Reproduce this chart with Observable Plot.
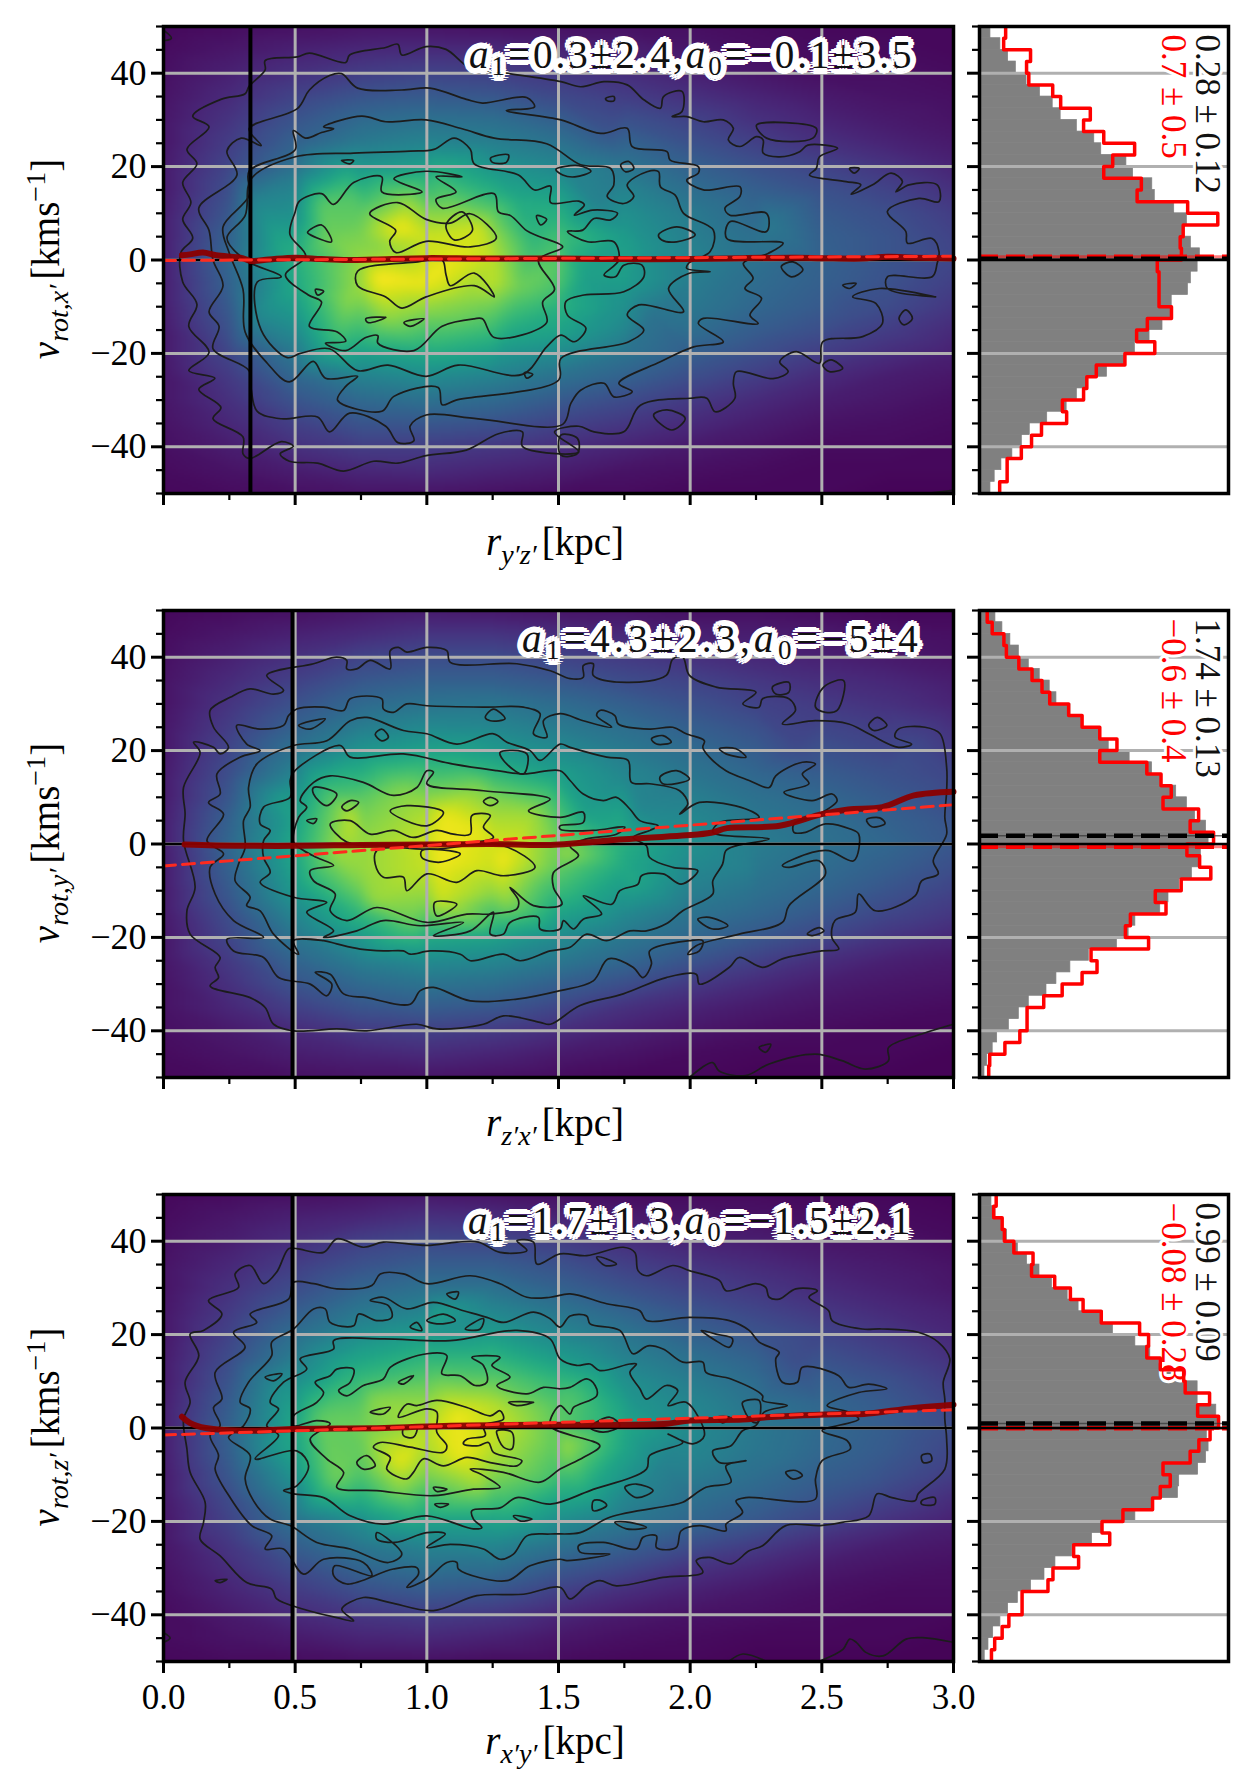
<!DOCTYPE html>
<html>
<head>
<meta charset="utf-8">
<script src="https://cdn.jsdelivr.net/npm/d3@7"></script>
<script src="https://cdn.jsdelivr.net/npm/@observablehq/plot@0.6"></script>
<style>
body { margin: 0; background: white; }
#page { position: relative; width: 1253px; height: 1791px; font-family: "Liberation Serif", serif; color: black; overflow: hidden; }
#page svg { position: absolute; max-width: none; }
.lab { position: absolute; font-size: 39px; white-space: nowrap; }
.lab sub { font-size: 28px; vertical-align: -9px; line-height: 0; margin-right: 5px; }
.lab sup { font-size: 28px; line-height: 0; }
.ylab { transform: translate(-50%, -50%) rotate(-90deg); }
.xlab { transform: translate(-50%, -50%); }
.fit { position: absolute; font-size: 39px; white-space: nowrap; transform: translateY(-50%); color: #111;
  text-shadow: 4px 0 #fff, -4px 0 #fff, 0 4px #fff, 0 -4px #fff, 3px 3px #fff, -3px 3px #fff, 3px -3px #fff, -3px -3px #fff, 6px 0 #fff, -6px 0 #fff, 0 6px #fff, 0 -6px #fff, 5px 3px #fff, -5px 3px #fff, 5px -3px #fff, -5px -3px #fff, 3px 5px #fff, -3px 5px #fff, 3px -5px #fff, -3px -5px #fff; }
.fit sub { font-size: 27px; vertical-align: -7px; line-height: 0; }
</style>
</head>
<body>
<div id="page"></div>
<script>
const rGrid = [0, 0.25, 0.5, 0.75, 1, 1.25, 1.5, 1.75, 2, 2.25, 2.5, 2.75, 3];
const vGrid = [50, 45, 40, 35, 30, 25, 20, 15, 10, 5, 0, -5, -10, -15, -20, -25, -30, -35, -40, -45, -50];
const vMajor = [-40, -20, 0, 20, 40];
const vMinor = [-50, -45, -35, -30, -25, -15, -10, -5, 5, 10, 15, 25, 30, 35, 45, 50];
const rMajor = [0, 0.5, 1, 1.5, 2, 2.5, 3];
const rMinor = [0.25, 0.75, 1.25, 1.75, 2.25, 2.75];
const gridV = [-40, -20, 0, 20, 40];
const gridR = [0.5, 1, 1.5, 2, 2.5];

// density, one row per vGrid value
const heat1 = [
[2,3,4,5,5,4,4,4,4,3,2,2,2],[3,6,9,11,12,12,10,9,6,4,3,3,2],[4,9,14,18,20,19,16,13,9,6,4,4,3],
[5,12,20,26,28,27,22,18,14,10,7,5,4],[6,15,26,34,37,36,30,25,20,14,10,7,5],[6,18,31,41,45,43,38,32,25,19,14,10,7],
[7,21,37,52,56,52,46,39,31,25,20,15,10],[7,24,45,64,68,62,55,45,36,30,25,20,14],[8,27,50,75,82,76,63,50,41,33,28,24,18],
[8,31,58,80,92,85,70,55,43,36,30,26,20],[8,33,62,84,93,90,74,57,45,37,31,26,21],[8,31,60,85,97,90,72,55,42,35,30,25,19],
[8,28,55,78,84,78,64,50,40,33,28,23,16],[7,25,48,68,72,68,58,46,36,29,24,18,12],[7,21,40,56,60,56,48,38,30,24,18,13,9],
[6,17,33,44,48,44,37,31,24,18,12,8,6],[6,14,26,34,37,34,28,23,17,12,8,6,4],[5,11,19,26,27,25,20,16,12,8,5,4,3],
[4,8,14,18,18,16,13,10,7,5,3,3,2],[3,5,8,11,12,10,8,5,4,3,2,2,2],[2,3,4,5,5,4,3,3,2,2,2,1,1]];
const heat2 = [
[2,3,4,6,7,6,5,5,4,4,3,2,2],[3,6,9,12,15,15,13,11,9,8,7,5,4],[4,9,14,20,23,23,20,17,14,11,9,7,5],
[5,12,19,27,30,30,27,23,20,16,13,11,8],[5,15,25,34,38,39,35,30,25,20,17,14,10],[6,18,31,42,47,46,41,36,30,25,21,18,14],
[6,21,38,52,57,54,48,41,35,29,25,21,17],[7,24,45,63,70,66,56,46,39,33,29,25,21],[7,27,52,74,82,80,66,53,43,37,33,28,23],
[8,31,57,80,89,88,74,59,47,40,36,31,26],[8,33,60,84,92,93,78,62,50,42,37,33,27],[7,31,58,84,91,92,76,60,47,40,35,30,24],
[7,28,54,78,85,84,68,54,43,37,32,26,20],[7,24,46,66,74,70,58,47,38,33,27,21,16],[6,21,39,54,60,57,48,40,33,27,21,15,11],
[6,17,32,43,48,46,40,33,26,19,13,9,7],[5,14,26,34,38,36,30,24,17,12,8,6,5],[5,11,19,26,29,27,21,14,10,7,5,4,3],
[4,7,12,17,19,17,13,9,6,4,3,2,2],[3,5,8,10,12,10,7,5,3,2,2,2,1],[2,3,4,5,5,4,3,2,2,1,1,1,1]];
const heat3 = [
[2,3,4,5,6,5,4,3,3,3,2,2,1],[3,6,9,11,14,13,10,8,6,5,4,3,2],[4,8,13,19,22,21,18,13,10,8,6,5,3],
[5,11,18,25,29,29,25,19,15,12,9,7,5],[5,14,23,32,37,37,31,25,20,16,12,9,6],[6,17,29,40,45,46,39,32,26,21,16,12,9],
[6,20,36,49,55,55,46,39,31,26,21,16,11],[7,23,42,58,65,65,55,44,37,31,25,20,14],[7,26,49,68,75,76,66,50,42,35,30,25,18],
[8,29,55,74,84,89,73,57,46,38,33,28,21],[8,31,60,78,88,91,75,60,48,40,34,29,23],[8,30,57,76,87,89,74,58,46,39,33,28,21],
[7,27,52,72,80,82,70,53,42,36,30,25,18],[7,23,44,62,68,70,59,46,37,32,26,20,13],[6,20,37,49,57,57,49,40,33,27,20,14,9],
[6,16,30,40,45,46,38,31,24,18,12,8,6],[5,13,23,32,37,36,28,22,15,11,7,5,4],[4,10,17,24,28,26,19,13,9,6,4,3,3],
[3,7,12,16,18,16,11,7,5,4,3,2,2],[3,5,7,10,11,9,6,4,3,2,2,2,1],[2,3,3,4,4,3,3,2,2,1,1,1,1]];

// bright and dim patches read between the grid nodes, r,v,density
const spots1 = [.9,7,98,.82,-4,100,1.03,-3,98,.62,5,78,.6,12,74,.73,14,72,1.2,7,92,1.1,11,80,.93,12,85,.7,-9,82,.85,-13,82,1.12,-13,76,1.35,-6,78,1.4,4,66,.45,3,60,.65,-18,66,1.03,-18,66,1.3,-17,58,1.03,18,66,.7,18,62,1.35,13,60,1.6,-4,56,1.65,12,44,1.85,-12,38,1.85,3,50,2.3,8,40,2.6,-12,24,1.7,27,26,.35,-12,46,.35,12,46,.87,2,84,1.15,-8,84];
const spots2 = [1.06,6,97,1.05,-4,98,1.28,-4,98,1.2,3,96,1.4,6,86,.72,6,90,.66,-2,85,.8,-12,84,1.05,-12,92,1.3,-12,84,1.45,-9,72,.62,11,70,.9,12,80,1.2,13,78,1.52,-2,85,.95,-17,76,1.23,-17,74,1.1,18,62,1.6,7,56,1.77,-8,60,1.8,8,46,1.6,-13,58,.45,-11,48,.45,9,56,2.23,-6,42,2.85,21,22,2.4,21,22,2.2,-11,38];
const spots3 = [1.12,3,97,1.13,-6,97,.9,-7,96,1.05,-1,94,1.3,1,90,.8,6,82,.6,2,76,.65,-11,78,.9,-13,82,1.2,-12,86,1.52,-4,85,1.45,-11,72,1.55,7,72,1.03,12,72,1.23,12,70,.7,12,62,.95,-18,66,1.3,-17,66,1.6,-14,60,1.03,21,50,1.03,24,58,1.77,6,52,1.9,-8,44,.45,-4,56,.45,8,52,2.3,-6,38,2.4,14,24,2.7,-11,26];

// contours as x,y,x,y...
const contours1 = [
[.325,37.2,.386,40.7,.386,42.7,.508,43.5,.554,44.3,.692,42.3,.707,43.9,.844,45.5,.89,46.2,.905,43.9,.997,45.7,1.073,45.1,1.165,41.1,1.3,40,1.509,38.2,1.584,37.1,1.673,38.2,1.761,37.5,1.824,34.3,1.887,32.5,1.899,35,1.969,36.1,1.969,31.8,1.931,30.7,1.987,30.7,2.05,29.6,2.126,30,2.164,28.2,2.145,25.7,2.189,24.3,2.252,26.4,2.277,25.7,2.277,22.9,2.34,22.1,2.416,23.2,2.447,24.6,2.56,23.9,2.491,22.1,2.479,19.6,2.453,18.2,2.592,16.8,2.648,16.1,2.611,14.1,2.693,16.1,2.763,18.6,2.806,16.8,2.781,14.6,2.831,16.1,2.938,16.1,2.945,12.5,2.869,13.2,2.749,10.4,2.819,6.1,2.825,3.6,2.919,4.6,2.945,1.8,2.938,-.7,2.919,-3.6,2.749,-3.6,2.749,-6.1,2.932,-7.9,2.718,-6.1,2.617,-7.9,2.705,-9.3,2.73,-13.6,2.655,-16.4,2.504,-17.5,2.491,-22.1,2.403,-19.6,2.34,-21.8,2.372,-23.9,2.315,-25.4,2.176,-23.9,2.164,-26.4,2.17,-29.6,2.095,-32.5,2.063,-29.6,2,-29.6,1.811,-31.1,1.748,-36.8,1.635,-36.8,1.577,-35.6,1.485,-36.8,1.577,-41.1,1.363,-39.9,1.363,-36.8,1.272,-37.2,1.15,-40.7,.997,-41.9,.89,-43.5,.798,-43.1,.684,-45.2,.585,-43.5,.478,-43.1,.443,-41.5,.493,-39.9,.447,-38.9,.328,-42.5,.302,-41.5,.302,-37.9,.188,-34,.218,-31.6,.134,-27.7,.195,-25.3,.096,-23.7,.173,-19.8,.096,-14.2,.127,-9.5,.073,-4.7,.066,1.6,.111,4.7,.073,8.7,.104,12.3,.073,16.6,.127,20.6,.089,23.7,.173,28.5,.111,30.8,.218,34.4,.31,35.6],
[1.509,30,1.66,27.1,1.761,28.2,1.78,24.3,1.912,23.2,1.924,21.4,2.031,20,2.031,18.6,1.987,17.1,2.05,15,2.189,15.7,2.189,13.6,2.132,11.1,2.151,9.6,2.29,10,2.29,6.1,2.151,8.2,2.139,4.6,2.353,3.6,2.296,1.4,2.202,-.7,2.239,-3.9,2.208,-6.1,2.271,-8.2,2.227,-11.8,2.258,-13.6,2.05,-12.5,2.031,-13.6,2.126,-17.5,2.013,-18.6,1.887,-21.8,1.729,-26.4,1.78,-28.2,1.71,-29.3,1.673,-26.4,1.584,-27.9,1.547,-30.7,1.516,-35.2,1.195,-34,.997,-33.2,.936,-35.6,.951,-38.7,.89,-39.1,.844,-35.6,.707,-32.8,.631,-36.8,.585,-33.6,.447,-34,.356,-32.4,.333,-27.7,.325,-23.7,.188,-19,.211,-14.2,.173,-11.1,.226,-5.5,.188,0,.173,6.3,.134,11.1,.279,18.2,.241,23.3,.295,26.1,.371,24.5,.325,28.1,.508,32.4,.554,36.4,.631,39.5,.676,39.9,.737,36.8,.905,36.4,1.012,36.8,1.15,34.4,1.211,33.6,1.379,34.8,1.409,32.8,1.302,32],
[.501,23.7,.493,27.7,.539,26.1,.6,27.3,.646,28.1,.608,28.5,.753,30.8,.844,29.6,.997,30,1.134,28.1,1.256,26.1,1.455,24.9,1.584,20.4,1.698,19.6,1.71,16.1,1.685,13.6,1.748,12.1,1.786,13.6,1.761,16.1,1.836,18.9,1.88,18.9,1.887,15.7,1.943,13.9,1.975,10,2.088,6.4,2.076,1.8,1.994,-.7,1.987,-1.8,2.076,-2.5,1.994,-2.9,1.918,-6.1,1.975,-11.1,1.805,-9.6,1.761,-11.8,1.824,-15,1.767,-17.5,1.509,-21.1,1.501,-25.7,1.111,-30,1.058,-31,1.043,-27.3,.875,-29.2,.829,-32.4,.661,-30,.693,-27,.737,-24.9,.615,-25.3,.569,-21.7,.478,-26.1,.394,-22.1,.31,-15.4,.302,-6.3,.249,1.6,.226,7.1,.325,13.8,.325,19],
[.501,22.1,.722,22.9,.936,23.3,1.027,23.7,1.104,26.1,1.165,23.7,1.18,20.6,1.348,18.2,1.409,15,1.47,15.8,1.47,12.3,1.577,12.6,1.598,11.8,1.56,9.6,1.63,10.7,1.724,10,1.698,8.6,1.635,8.9,1.592,6.4,1.534,6.1,1.61,3.9,1.71,3.9,1.729,0,1.673,-3.2,1.716,-3.6,1.748,-1.1,1.817,-1.1,1.824,-3.6,1.748,-6.8,1.597,-7.5,1.528,-8.9,1.534,-11.8,1.604,-14.6,1.56,-17.5,1.509,-16.1,1.455,-18.6,1.363,-24.5,1.119,-22.5,.997,-24.9,.852,-22.5,.737,-23.7,.63,-19,.52,-20,.47,-20.9,.371,-15,.356,-4.7,.447,-3.6,.31,0,.241,4.7,.31,9.5,.333,17.4],
[.516,12.6,.6,14.2,.646,11.9,.722,16.6,.829,17.8,.829,14.6,.982,14.6,.875,17.4,.997,19,1.134,17.8,1.035,17.8,1.111,14.6,1.035,13,1.058,11.1,1.256,14.2,1.272,10.3,1.318,9.5,1.379,6.3,1.424,5.1,1.516,2.8,1.424,0,1.485,-6.3,1.44,-9,1.455,-13.4,1.256,-16.6,1.211,-12.6,1.18,-12.6,1.058,-14.2,.951,-19.4,.814,-17.8,.814,-16.2,.768,-16.6,.692,-19.4,.615,-17.8,.692,-17.4,.66,-15.4,.554,-14.2,.6,-9,.55,-7.5,.463,-3.2,.54,.8,.48,5.5,.5,10.3],
[.783,9.9,.89,12.3,.997,8.7,1.089,7.9,1.165,9.9,1.264,4.7,1.165,2.8,.997,4,.882,1.6,.859,4,.882,6.3],
[.737,-2.4,.966,-.4,1.058,0,1.073,-3.2,1.089,-5.5,1.18,-2.8,1.256,-7.9,1.18,-5.5,.997,-7.9,.905,-10.3,.844,-7.9,.737,-5.5],
[.547,5.9,.6,7.5,.638,3.9,.554,5.5],[1.073,7.5,1.134,10.3,1.173,6.3,1.104,4.3],[1.242,21.8,1.31,22.5,1.302,20.9,1.249,20.9],
[1.49,19.4,1.577,20.2,1.623,19,1.562,17.8,1.516,18.2],[.676,21.3,.722,21.3,.707,20.6],[1.417,9.5,1.455,8.7,1.432,7.5],
[.577,-6.3,.608,-6.7,.585,-7.5],[.768,-12.6,.844,-12.3,.776,-13.4],[.913,-13.4,.989,-12.6,.936,-14.2],[1.371,-24.1,1.402,-24.5,1.379,-25.3],
[1.736,20.4,1.767,21.1,1.786,19.6,1.754,18.9],[1.88,5.4,1.949,7.1,2.019,5.4,1.949,3.9,1.892,4.3],[2.252,28.9,2.479,28.2,2.466,26.1,2.29,26.1],
[2.605,19.6,2.642,19.6,2.623,18.6],[2.346,-1.4,2.39,-.4,2.428,-2.1,2.384,-3.6],[2.579,-5.4,2.63,-5,2.605,-6.1],[2.793,-12.5,2.819,-10.7,2.844,-12.5,2.812,-13.9],
[1.861,-33.2,1.912,-32.1,1.981,-33.9,1.931,-36.4],[2.504,-22.5,2.535,-21.4,2.579,-23.2,2.529,-23.9],[1.509,-37.5,1.572,-38.2,1.572,-41.4,1.509,-41.8],[1.679,34.6,1.711,35,1.711,34.1,1.685,34.1]];
const open1 = [[2.894,-50,3,-49.3],[.005,49,.03,47.5,.005,47]];

const contours2 = [
[.114,21.8,.139,19.6,.076,12.1,.082,6.4,.076,.7,.12,-9.3,.089,-14.3,.101,-19.3,.215,-24.3,.196,-26.4,.209,-28.6,.177,-30.4,.329,-32.9,.386,-35,.418,-38.6,.494,-40,.658,-39.6,.772,-40,.962,-38.6,1.038,-39.6,1.215,-38.6,1.291,-36.8,1.43,-38.2,1.469,-38.6,1.582,-34.6,1.746,-32.1,1.909,-28.6,2.023,-27.9,2.035,-30,2.149,-26.4,2.186,-24.3,2.275,-26.4,2.35,-24.6,2.5,-22.9,2.564,-22.5,2.538,-20,2.55,-16.4,2.627,-14.6,2.64,-10.7,2.703,-14.3,2.854,-11.1,2.879,-7.9,2.942,-6.4,2.923,-3.6,2.974,2.1,2.967,5.7,2.974,11.4,2.974,16.4,2.949,23.6,2.892,25,2.791,24.6,2.778,22.9,2.841,21.4,2.791,20.7,2.678,23.6,2.602,25.7,2.476,26.4,2.35,25.7,2.4,28.6,2.375,31.1,2.275,31.1,2.262,29.3,2.2,30,2.25,32.5,2.098,33.6,1.997,36.1,1.972,40,1.934,39.6,1.909,36.1,1.758,34.6,1.632,36.1,1.632,38.6,1.594,38.2,1.594,35.7,1.544,35.4,1.469,37.1,1.342,38.6,1.089,38.9,1.076,41.4,1,42.1,.924,41.1,.892,42.1,.861,41.4,.861,37.5,.785,39.3,.734,37.5,.696,37.5,.696,39.3,.658,40,.57,38.6,.392,36.1,.456,32.9,.418,32.1,.329,33.2,.253,31.4,.177,28.6,.19,25,.247,20.7,.215,19.3,.19,20.7],
[.367,20,.291,18.6,.203,15,.215,10.7,.171,8.9,.228,6.4,.165,.7,.228,-2.1,.177,-5,.196,-10.7,.266,-16.4,.38,-20,.241,-20.4,.266,-22.9,.38,-24.3,.437,-28.6,.557,-30,.62,-32.5,.639,-30,.576,-27.5,.633,-27.9,.684,-32.1,.772,-32.9,.937,-34.3,.975,-31.4,1.025,-30.7,1.165,-33.6,1.342,-33.2,1.506,-31.4,1.632,-29.3,1.689,-24.6,1.783,-26.4,1.821,-28.6,1.853,-25.7,1.846,-22.9,1.997,-20.7,2.048,-20.7,2.035,-22.9,1.991,-23.6,2.023,-21.8,2.186,-19.3,2.35,-16.8,2.375,-13.2,2.514,-6.4,2.489,-3.6,2.375,-5,2.35,-4.6,2.463,-1.8,2.526,-1.4,2.621,-3.6,2.64,2.1,2.608,3.2,2.514,4.3,2.438,2.5,2.394,2.5,2.394,4.3,2.489,6.4,2.558,9.3,2.539,10.7,2.463,9.3,2.356,11.1,2.451,12.9,2.426,15,2.476,17.1,2.426,17.5,2.325,14.6,2.3,12.1,2.224,13.6,2.136,15.7,2.073,18.6,2.048,20.7,2.054,22.1,1.985,23.6,1.934,25,1.846,24.6,1.727,25.7,1.714,27.5,1.657,28.6,1.645,27.5,1.702,25,1.594,26.4,1.506,27.9,1.443,26.4,1.456,22.9,1.405,23.6,1.43,27.9,1.367,29.3,1.215,29.3,1,29.6,.924,30,.873,28.2,.835,28.9,.829,31.1,.709,31.1,.684,28.6,.608,29.3,.506,28.9,.475,27.5,.456,25.4,.367,24.6,.278,25.4,.316,21.4],
[.494,21.1,.62,22.1,.709,26.4,.772,27.1,.911,24.3,1,23.6,1.114,21.4,1.253,23.6,1.304,21.8,1.392,20,1.43,17.9,1.506,21.4,1.544,20.7,1.683,18.6,1.764,17.9,1.777,13.2,1.846,12.9,1.96,11.4,1.991,8.6,1.96,6.4,2.035,8.9,2.212,7.5,2.262,5.7,2.111,4.6,2.086,2.5,2.3,1.1,2.174,-.4,2.136,-1.4,2.123,-4.3,2.086,-7.9,2.086,-10.7,1.972,-14.3,1.909,-17.1,1.834,-18.6,1.771,-18.6,1.683,-20.7,1.607,-19.3,1.544,-22.1,1.469,-22.9,1.354,-25,1.291,-23.6,1.165,-25,1.127,-23.6,1.013,-22.9,.937,-23.6,.911,-22.9,.835,-22.9,.747,-22.5,.658,-21.4,.608,-20.7,.494,-20.7,.513,-23.6,.418,-19.3,.367,-14.3,.316,-13.2,.329,-11.4,.272,-7.9,.285,-4.3,.31,-.7,.304,5,.329,7.9,.323,12.1,.354,17.1],
[.494,15.4,.671,21.1,.709,18.6,.911,19.3,1.101,17.1,1.266,15.7,1.367,15,1.506,15.7,1.544,13.6,1.594,10.7,1.67,9.3,1.72,10,1.771,7.5,1.809,5,1.878,3.9,1.846,2.9,1.783,1.4,1.834,-.4,1.846,-2.9,1.934,-5,2.029,-5.7,1.966,-8.6,1.897,-6.4,1.815,-6.8,1.802,-8.6,1.733,-10,1.702,-12.9,1.594,-11.1,1.664,-15,1.594,-16.1,1.557,-18.2,1.519,-16.4,1.506,-18.2,1.43,-18.2,1.424,-15.7,1.316,-16.8,1.291,-19.3,1.241,-19.3,1.253,-14.6,1.165,-18.6,1.025,-19.6,1.139,-16.8,.975,-17.5,.835,-16.4,.734,-18.6,.608,-20,.646,-18.6,.544,-14.6,.62,-12.5,.494,-11.4,.367,-8.2,.405,-6.1,.38,-2.9,.38,.7,.405,2.9,.367,4.3,.38,7.9,.481,10,.481,13.6],
[.513,5.7,.544,7.9,.519,9.3,.57,13.2,.633,14.6,.759,13.2,.873,10.4,.962,12.1,1,15.7,1.025,15.4,1,12.9,1.215,11.4,1.468,9.6,1.386,7.1,1.506,5.7,1.594,6.8,1.594,4.6,1.506,3.9,1.506,3.2,1.632,2.9,1.752,3.6,1.72,2.1,1.607,1.1,1.544,-.4,1.576,-2.5,1.481,-6.1,1.481,-9.3,1.513,-12.9,1.405,-13.2,1.316,-9.3,1.348,-12.1,1.342,-13.9,1.241,-15,1.152,-15,1,-16.8,.81,-13.6,.696,-16.4,.633,-14.3,.652,-10.7,.57,-7.9,.557,-5.7,.646,-4.6,.582,-2.9,.532,-1.4,.494,.4],
[.633,4.3,.709,5,.785,2.1,.873,2.9,.949,1.4,1.038,2.9,1.101,2.1,1.165,2.1,1.171,6.1,1.241,6.1,1.215,3.6,1.253,1.4,1.051,0,.835,-.4,.696,.4],
[.81,-1.4,.804,-4.3,.835,-7.1,.911,-7.1,.924,-10,1,-6.4,1.114,-8.2,1.19,-5.7,1.291,-6.8,1.411,-5,1.291,-.4,1.025,-1.1],
[.861,7.1,.924,8.2,1.063,6.8,1,3.9],[.57,12.1,.658,10.7,.62,8.2,.57,10.7],[.709,9.3,.741,8.9,.696,7.1,.677,7.9],[.544,5,.582,5.4,.57,4.4],
[1.215,9.1,1.24,10,1.27,9.1,1.24,8.2],[.981,-1.4,1.127,-2.1,1.051,-3.9,.981,-2.9],[1.03,-12.5,1.114,-12.9,1.038,-15.4],[.513,25.4,.614,26.8,.557,24.6],
[.804,23.5,.829,24.6,.854,22.9,.829,22.1],[1.222,27.1,1.253,28.9,1.297,26.8,1.241,26.4],[1.278,19.6,1.38,19.3,1.367,15,1.304,17.1],
[2.678,25.4,2.71,27.1,2.747,25.4,2.697,24.3],[2.312,33.6,2.375,34.6,2.375,32.5,2.325,32.1],[2.476,29.3,2.507,33.6,2.583,35,2.558,28.6,2.514,28.2],
[1.885,14.3,1.948,15.7,1.997,13.9,1.896,12.9],[1.853,22.5,1.897,23.2,1.928,21.8,1.872,21.4],[2.111,20.4,2.174,20.4,2.212,18.6,2.136,19.3],
[2.029,-16.1,2.073,-15.7,2.143,-17.5,2.086,-18.2],[2.445,-19.3,2.49,-17.9,2.508,-18.6,2.464,-19.6],[2.67,5.2,2.72,5.6,2.74,4.4,2.69,3.7],[2.262,-43.6,2.306,-42.9,2.287,-44.6]];
const open2 = [[1.997,-50,2.085,-46.8,2.11,-48.6,2.21,-49.6,2.3,-47.1,2.476,-45,2.576,-46.4,2.665,-48.2,2.753,-46.4,2.753,-43.6,2.879,-40.7,3,-38.6]];

const contours3 = [
[.101,20.1,.134,15.5,.082,9.8,.101,5.5,.076,1.9,.089,-4.5,.101,-9.5,.158,-15.9,.152,-20.2,.139,-23.8,.215,-27.4,.316,-33.1,.411,-34.5,.43,-36.6,.532,-38.8,.658,-40.6,.722,-41.3,.677,-38.8,.759,-36.3,.861,-37.4,1.025,-39.1,1.19,-35.9,1.367,-35.6,1.506,-34.1,1.544,-36.6,1.607,-33.8,1.657,-32.7,1.72,-33.8,1.897,-32,2.048,-30.9,2.023,-28.4,2.073,-27.7,2.155,-29.1,2.224,-26.3,2.275,-25.2,2.363,-20.9,2.495,-20.9,2.577,-20.2,2.678,-18.8,2.71,-14.1,2.766,-14.9,2.854,-15.6,2.866,-14.1,2.967,-8.8,2.974,-2.4,2.967,1.9,2.967,6.2,2.961,9.8,2.986,14.8,2.942,18.4,2.866,20.5,2.728,21.2,2.653,21.2,2.539,23,2.526,25.1,2.451,28,2.483,29.4,2.401,29.8,2.338,27.6,2.3,28,2.287,30.1,2.249,30.9,2.136,29.4,2.111,31.6,1.997,33.7,1.934,34.8,1.834,32.6,1.802,33.7,1.79,37.6,1.746,38.7,1.607,36.9,1.506,37.3,1.418,35.1,1.405,39.8,1.342,40.1,1.38,38,1.278,37.6,1.196,39.8,1.114,39.8,1,39.1,.835,39.8,.759,38.7,.658,40.5,.608,37.6,.506,38.4,.475,38.4,.43,33.4,.38,30.9,.329,34.8,.272,33,.285,30.1,.171,27.3,.222,24.4,.152,20.9],
[.494,31.2,.475,27.6,.329,24.4,.354,22.6,.266,20.5,.31,17.3,.196,11.9,.222,6.2,.19,4.4,.215,.5,.177,-1.6,.209,-5.9,.196,-8.8,.253,-14.9,.335,-20.9,.411,-23.1,.386,-25.9,.456,-25.9,.532,-31.3,.608,-28.1,.759,-28.8,.791,-31.6,.65,-29.5,.646,-31.6,.696,-33.4,.873,-30.2,.962,-29.9,.968,-31.3,.924,-34.1,1,-32.4,1.076,-28.8,1.114,-28.8,1.12,-30.2,1.304,-32.7,1.392,-29.5,1.506,-28.1,1.532,-28.4,1.695,-27,1.582,-26.6,1.576,-25.2,1.67,-24.5,1.796,-25.9,1.821,-23.4,1.872,-23.1,1.872,-25.6,1.947,-25.6,1.966,-22,2.035,-20.9,2.136,-22,2.136,-20.6,2.199,-18.1,2.174,-15.6,2.212,-14.9,2.476,-15.2,2.476,-10.9,2.501,-7,2.608,-4.5,2.596,-2.7,2.501,-.6,2.64,1.9,2.602,3.4,2.52,4.8,2.64,7.6,2.747,8.4,2.678,9.4,2.602,8.7,2.564,11.2,2.426,13,2.407,9.8,2.35,9.8,2.325,14.8,2.338,16.2,2.262,18.4,2.224,20.9,2.149,23,1.997,23.7,1.834,23,1.809,25.1,1.683,26.6,1.544,28.7,1.469,28,1.38,28,1.278,30.9,1.165,32.6,1,30.9,.911,33,.823,33,.791,30.5,.658,29.8,.57,30.9],
[.57,25.5,.614,25.5,.633,22.6,.722,21.9,.741,24.4,.81,23,.867,23.7,.854,26.2,.785,27.3,.835,28,.924,25.5,1.025,26.9,1.139,25.1,1.228,23.7,1.291,22.6,1.405,24.8,1.468,23.4,1.506,21.6,1.544,24,1.607,24,1.62,22.3,1.733,20.9,1.783,15.9,1.84,17.6,1.897,16.9,1.972,14.1,2.048,14.1,2.06,11.9,2.155,10.5,2.275,6.9,2.275,5.9,2.369,4.8,2.281,3.4,2.249,.5,2.199,-.6,2.155,-3.8,2.086,-4.9,2.111,-7.4,2.212,-7,2.136,-8.1,2.155,-11.6,2.06,-12.7,1.972,-15.9,1.922,-16.6,1.695,-19.1,1.582,-22.4,1.469,-22.7,1.38,-23.1,1.329,-27,1.278,-28.1,1.215,-25.9,1.089,-24.9,1,-25.6,1.07,-22.7,1,-22.4,.88,-24.5,.81,-23.8,.81,-22.4,.905,-27,.854,-28.8,.709,-25.9,.582,-24.5,.481,-20.9,.405,-19.5,.342,-15.6,.31,-10.9,.329,-5.9,.247,-2,.304,.5,.329,4.1,.291,5.5,.323,9.8,.411,15.5,.411,18.4,.494,21.2],
[.646,16.9,.646,18.7,.835,19.1,1.089,18.7,1.342,20.9,1.468,19.1,1.506,14.8,1.569,13.4,1.62,13.7,1.657,12.3,1.771,13.7,1.796,13.7,1.771,11.9,1.809,8.4,1.834,6.2,1.909,9.1,1.953,8,1.916,4.8,1.985,5.5,2.054,-1.6,2.01,-3.4,1.916,-1.3,1.972,-3.1,1.846,-5.9,1.834,-8.8,1.62,-13.4,1.469,-16.3,1.342,-14.9,1.278,-17.1,1.171,-17.7,1.177,-19.5,1.209,-21.3,1.177,-21.6,1,-18.8,.835,-20.6,.709,-18.8,.608,-14.9,.494,-14.1,.456,-13.4,.506,-12.4,.551,-8.1,.506,-4.9,.348,-6.6,.437,-1.6,.392,.5,.437,4.1,.405,5.5,.456,9.8,.544,12.6,.519,14.8],
[.494,2.6,.582,5.5,.608,7.6,.576,9.8,.633,11.2,.658,12.6,.722,12.6,.709,9.8,.665,8,.696,6.9,.759,9.1,.835,10.5,.861,13,1,15.9,1.076,15.5,1.057,11.6,1.127,11.2,1.184,9.1,1.228,9.8,1.215,13.4,1.171,15.1,1.278,15.1,1.247,13.4,1.316,10.9,1.266,9.1,1.38,7.3,1.443,8.7,1.506,8.4,1.544,8.7,1.607,10.5,1.639,9.1,1.645,6.9,1.557,4.4,1.544,3,1.506,4.8,1.469,.5,1.657,-3.8,1.594,-6.3,1.506,-8.8,1.43,-11.6,1.291,-9.5,1.165,-8.8,1.215,-10.2,1.278,-12.7,1.177,-13.1,1.025,-14.5,.81,-13.4,.658,-12.7,.684,-9.5,.62,-6.6,.557,-2.4,.633,.9,.582,1.6,.494,.5],
[.892,2.3,.924,5.1,.962,4.8,1.038,5.9,1.152,4.4,1.241,2.6,1.278,3.7,1.291,1.9,1.215,.5,1.222,-1.6,1.152,-2.4,1.139,-3.4,1.196,-3.8,1.234,-3.1,1.253,-5.2,1.361,-7,1.342,-8.1,1.241,-7.4,1.152,-6.3,1.063,-8.1,.987,-6.6,.949,-9.5,.924,-10.9,.848,-8.8,.861,-6.3,.797,-4.1,.823,-3.1,.937,-4.1,1.063,-5.2,1.076,-3.8,1.038,-.9,1.038,3.4,1,4.1],
[.386,10.9,.45,11.6,.418,10.1],[.734,-7.4,.772,-5.9,.804,-8.1,.759,-8.8],[.785,3.4,.861,4.4,.835,3],[.892,9.8,.949,11.2,.911,9.4],[1,23,1.063,24.4,1.108,23,1.038,22.3],
[1.146,21.2,1.215,23.4,1.203,21.2],[.937,21.6,.962,22.6,.981,20.9],[1.076,28.7,1.12,29.1,1.108,27.6],[.196,-32.7,.241,-32.4,.215,-33.1],[1.025,-12.7,1.076,-13.1,1.038,-13.6],
[1.03,-16.3,1.082,-16.3,1.051,-17],[1.31,5.5,1.405,5.5,1.342,4.8],[1.329,-18.8,1.399,-19.5,1.354,-19.9],[1.266,-.6,1.323,-.9,1.323,-4.5,1.291,-4.1,1.266,-1.3],[.911,-.2,.962,.1,.949,-2,.911,-1.6],
[1.752,-12.7,1.796,-12,1.859,-13.4,1.796,-14.9],[1.632,-15.6,1.664,-15.6,1.683,-16.6,1.632,-17.7],[1.714,-20.2,1.771,-20.2,1.834,-21.3,1.758,-21.6],[1.645,36.6,1.683,36.2,1.72,35.1,1.676,34.8],
[2.042,20.9,2.098,20.1,2.161,19.1,2.149,17.3,2.098,18.7],[2.363,-9.5,2.401,-9.1,2.426,-10.2,2.388,-10.9],[2.879,-5.9,2.911,-5.6,2.917,-7,2.885,-7.4],[2.879,-15.6,2.929,-14.9,2.929,-16.3,2.879,-16.3],
[2.199,5.5,2.262,5.9,2.256,1.2,2.23,1.6,2.199,4.8],[2.105,2.3,2.149,2.3,2.123,1.1],[1.62,.1,1.695,2.3,1.733,.5,1.67,-.9]];
const open3 = [[2.492,-49.9,2.58,-47.4,2.606,-45.2,2.631,-45.9,2.669,-48.1,2.732,-48.8,2.82,-45.2,2.883,-44.9,3,-45.9],[2.149,-49.9,2.2,-48.4,2.287,-49.9],[0,-43.8,.025,-45,0,-45.9]];

// running median and fit
const medR1 = [.07,.1,.15,.2,.3,.33,.4,.5,.6,.7,.8,1,1.2,1.5,1.75,2,2.2,2.4,2.5,2.65,2.75,2.85,3];
const medV1 = [1,1.2,1.6,1,.4,-.2,.1,.5,.2,0,.1,.4,.3,.3,.2,.2,.4,.5,.4,.3,.7,.5,.3];
const medR2 = [.08,.2,.5,.75,1,1.25,1.47,1.75,1.97,2.08,2.14,2.34,2.5,2.6,2.73,2.85,3];
const medV2 = [-.1,-.3,-.4,-.2,-.1,0,-.2,1,1.8,2.4,3.4,3.9,6.4,7.4,7.9,10.4,11.2];
const medR3 = [.07,.1,.16,.33,.49,.84,1.09,1.47,1.72,1.91,2,2.2,2.29,2.6,2.66,2.85,3];
const medV3 = [2.4,1.1,0,-.6,-.2,0,.5,.7,.7,.9,1.6,1.8,2.3,3,3,4.3,5];
const fitR = [0, 3];
const fitV1 = [-.1, .8];
const fitV2 = [-4.7, 8.4];
const fitV3 = [-1.5, 3.9];

// histograms, percent of axis width, 2.5 km/s bins from +50 down to -50
const histEdges = d3.range(50, -50, -2.5);
const gray1 = [4.4,8.4,11.5,14.6,18.9,24.3,29.4,32.6,39.1,46.1,48.9,59,61.7,69.4,70.4,78.2,83.3,82.2,84.9,88.5,87.6,84.9,83.7,77.2,77.2,73.5,68.3,62.4,58.6,51.2,43.1,39.1,35,27.2,20.2,17,13.2,8.8,6.1,4.4];
const red1 = [10.5,9.7,20.5,18.9,19.8,29.4,32.6,44.5,41.8,49.9,62.3,53.5,49.9,65,63.3,83.6,95.7,81.8,80.6,81.1,71.4,72.1,72.1,72.1,77.1,67.4,63.1,70.4,58.4,46.9,43.1,41.8,33.3,35,24.9,20.9,16.8,11.1,11.1,8.1];
const gray2 = [6.4,9.2,12.4,15.8,19.8,24.2,28.2,30.9,36.5,41.2,47.9,51.9,60.3,69.3,72.6,79,83.3,86.6,91,92,88.9,88.9,85.3,80.3,75.9,72.6,62.6,59.9,55.2,43.9,36.5,30.9,26.9,19.8,15.8,11.8,7.1,5.3,3.1,2];
const red2 = [3.1,5.1,9.8,10.8,15.8,21.1,25.1,28.2,35.8,41.2,48.3,55.2,48.3,67.2,72.9,77,73.7,88,84.6,94,83.3,88.4,92.9,81,70.6,74.9,60.6,58.6,67.9,44.8,47.2,41.2,33.2,25.8,19.1,19.1,16.2,10.2,4.1,3.7];
const gray3 = [4.8,6.4,8.7,11.1,15.4,19.1,24.1,29.1,35.4,39.8,49.6,53.6,62.6,68.6,72.3,77.9,87.6,87.6,95.1,96,91.3,92,91,87.8,80.2,79.7,69.9,62.6,49.2,45.2,37.2,30.5,26.1,20.7,15.4,11.5,8.4,5.5,3.6,2.1];
const red3 = [6.7,5.7,9.1,10,13.8,21.5,20.9,30.2,36.5,41.6,48.9,64.3,67.9,67.2,72.6,82,82.6,92.4,87.6,96,92.6,88.1,84.6,73.7,76.6,72.6,69.5,57.6,49.2,52.3,37.8,39.8,29.5,27.5,17.1,17.1,11.8,9.1,6.1,4.8];

const page = document.getElementById("page");
const font = "Liberation Serif";

function heatTable(rows, spots) {
  const grid = rows.flatMap((row, i) => row.map((z, j) => ({r: rGrid[j], v: vGrid[i], z})));
  const extra = d3.range(0, spots.length, 3).map(i => ({r: spots[i], v: spots[i + 1], z: spots[i + 2]}));
  return grid.concat(extra);
}
function contourTable(lists) {
  return lists.flatMap((c, id) => d3.range(0, c.length, 2).map(i => ({r: c[i], v: c[i + 1], id})));
}

function mainPlot(p) {
  const svg = Plot.plot({
    width: 985, height: 6 + 467 + p.bottom,
    marginLeft: 163, marginRight: 32, marginTop: 6, marginBottom: p.bottom,
    style: {fontFamily: font, background: "transparent", overflow: "visible"},
    x: {domain: [0, 3]},
    y: {domain: [-50, 50]},
    color: {type: "linear", scheme: "viridis", domain: [0, 100]},
    marks: [
      Plot.raster(heatTable(p.heat, p.spots), {x: "r", y: "v", fill: "z", x1: 0, x2: 3, y1: -50, y2: 50, interpolate: "barycentric", pixelSize: 2, blur: 2}),
      Plot.ruleX(gridR, {stroke: "#b0b0b0", strokeWidth: 3}),
      Plot.ruleY(gridV, {stroke: "#b0b0b0", strokeWidth: 3}),
      Plot.line(contourTable(p.contours), {x: "r", y: "v", z: "id", curve: "catmull-rom-closed", stroke: "#1c1c1c", strokeWidth: 1.7, clip: true}),
      Plot.line(contourTable(p.open), {x: "r", y: "v", z: "id", curve: "catmull-rom", stroke: "#1c1c1c", strokeWidth: 1.7, clip: true}),
      Plot.ruleY([0], {stroke: "black", strokeWidth: 2.5}),
      Plot.ruleX([p.cut], {stroke: "black", strokeWidth: 4}),
      Plot.line(p.medR.map((r, i) => ({r, v: p.medV[i]})), {x: "r", y: "v", stroke: "#8b0000", strokeWidth: 6, curve: "catmull-rom", strokeOpacity: 0.95}),
      Plot.line(fitR.map((r, i) => ({r, v: p.fitV[i]})), {x: "r", y: "v", stroke: "#ff2a1f", strokeWidth: 3, strokeDasharray: "12,7"}),
      Plot.frame({stroke: "black", strokeWidth: 3.5}),
      Plot.axisY(vMajor, {anchor: "left", tickSize: 12, tickPadding: 5, strokeWidth: 3, fontSize: 36, label: null, tickFormat: d3.format("d")}),
      Plot.axisY(vMinor, {anchor: "left", tickSize: 7, strokeWidth: 2.2, fill: "none", label: null}),
      Plot.axisX(rMajor, p.labels
        ? {anchor: "bottom", tickSize: 12, tickPadding: 11, strokeWidth: 3, fontSize: 35, label: null, tickFormat: d3.format(".1f")}
        : {anchor: "bottom", tickSize: 12, strokeWidth: 3, fill: "none", label: null}),
      Plot.axisX(rMinor, {anchor: "bottom", tickSize: 7, strokeWidth: 2.2, fill: "none", label: null})
    ]
  });
  svg.style.left = "0px";
  svg.style.top = (p.top - 6) + "px";
  page.append(svg);
}

function histPlot(p) {
  const bars = histEdges.map((e, i) => ({y1: e, y2: e - 2.5, n: p.gray[i]}));
  const step = histEdges.flatMap((e, i) => [{x: p.red[i], y: e}, {x: p.red[i], y: e - 2.5}]);
  const svg = Plot.plot({
    width: 280, height: 6 + 467 + 8,
    marginLeft: 19, marginRight: 12, marginTop: 6, marginBottom: 8,
    style: {fontFamily: font, background: "transparent", overflow: "visible"},
    x: {domain: [0, 100], axis: null},
    y: {domain: [-50, 50]},
    marks: [
      Plot.rectX(bars, {y1: "y1", y2: "y2", x1: 0, x2: "n", fill: "#808080", stroke: "#808080", strokeWidth: 0.7}),
      Plot.ruleY(vMajor.filter(d => d), {stroke: "#b0b0b0", strokeWidth: 3}),
      Plot.text([p.blackText], {frameAnchor: "top-right", dx: -8, dy: 8, rotate: 90, textAnchor: "start", fontSize: 35, fill: "#111", stroke: "white", strokeWidth: 6, paintOrder: "stroke"}),
      Plot.text([p.redText], {frameAnchor: "top-right", dx: -42, dy: 8, rotate: 90, textAnchor: "start", fontSize: 35, fill: "#ff0000", stroke: "white", strokeWidth: 6, paintOrder: "stroke"}),
      Plot.line(step, {x: "x", y: "y", stroke: "#ff0000", strokeWidth: 3.5, clip: true}),
      Plot.ruleY([p.redMean], {stroke: "#ff0000", strokeOpacity: 0.5, strokeWidth: 3}),
      Plot.ruleY([p.redMean], {stroke: "#ff0000", strokeWidth: 4.5, strokeDasharray: "19,8"}),
      Plot.ruleY([p.blackMean], {stroke: "#333", strokeOpacity: 0.7, strokeWidth: 1.5}),
      Plot.ruleY([p.blackMean], {stroke: "black", strokeWidth: 4.5, strokeDasharray: "19,8"}),
      Plot.ruleY([0], {stroke: "black", strokeWidth: 2.5}),
      Plot.frame({stroke: "black", strokeWidth: 3.5}),
      Plot.axisY(vMajor, {anchor: "left", tickSize: 12, strokeWidth: 3, fill: "none", label: null}),
      Plot.axisY(vMinor, {anchor: "left", tickSize: 7, strokeWidth: 2.2, fill: "none", label: null})
    ]
  });
  svg.style.left = "960px";
  svg.style.top = (p.top - 6) + "px";
  page.append(svg);
}

function addHtml(cls, left, top, html, spacing) {
  const d = document.createElement("div");
  d.className = cls;
  d.style.left = left + "px";
  d.style.top = top + "px";
  if (spacing) d.style.letterSpacing = spacing + "px";
  d.innerHTML = html;
  page.append(d);
}

const panels = [
  {top: 25.5, bottom: 20, heat: heat1, spots: spots1, contours: contours1, open: open1, cut: .33, medR: medR1, medV: medV1, fitV: fitV1, labels: false,
   gray: gray1, red: red1, blackMean: .28, redMean: .7, blackText: "0.28 ± 0.12", redText: "0.7 ± 0.5",
   fitLeft: 469, fitTop: 54, fitSpacing: 3, fit: "<i>a</i><sub>1</sub>=0.3±2.4,<i>a</i><sub>0</sub>=−0.1±3.5",
   yLab: "x′", xLab: "y′z′", xTop: 541},
  {top: 610, bottom: 20, heat: heat2, spots: spots2, contours: contours2, open: open2, cut: .49, medR: medR2, medV: medV2, fitV: fitV2, labels: false,
   gray: gray2, red: red2, blackMean: 1.74, redMean: -.6, blackText: "1.74 ± 0.13", redText: "−0.6 ± 0.4",
   fitLeft: 522, fitTop: 638, fitSpacing: 4.4, fit: "<i>a</i><sub>1</sub>=4.3±2.3,<i>a</i><sub>0</sub>=−5±4",
   yLab: "y′", xLab: "z′x′", xTop: 1122},
  {top: 1193.5, bottom: 60, heat: heat3, spots: spots3, contours: contours3, open: open3, cut: .49, medR: medR3, medV: medV3, fitV: fitV3, labels: true,
   gray: gray3, red: red3, blackMean: .99, redMean: -.08, blackText: "0.99 ± 0.09", redText: "−0.08 ± 0.28",
   fitLeft: 468, fitTop: 1220, fitSpacing: 3, fit: "<i>a</i><sub>1</sub>=1.7±1.3,<i>a</i><sub>0</sub>=−1.5±2.1",
   yLab: "z′", xLab: "x′y′", xTop: 1740}
];

for (const p of panels) {
  mainPlot(p);
  histPlot(p);
  addHtml("fit", p.fitLeft, p.fitTop, p.fit, p.fitSpacing);
  addHtml("lab ylab", 45, p.top + 233, `<i>v</i><sub><i>rot,${p.yLab}</i></sub>[kms<sup>−1</sup>]`);
  addHtml("lab xlab", 555, p.xTop, `<i>r</i><sub><i>${p.xLab}</i></sub>[kpc]`);
}
</script>
</body>
</html>
